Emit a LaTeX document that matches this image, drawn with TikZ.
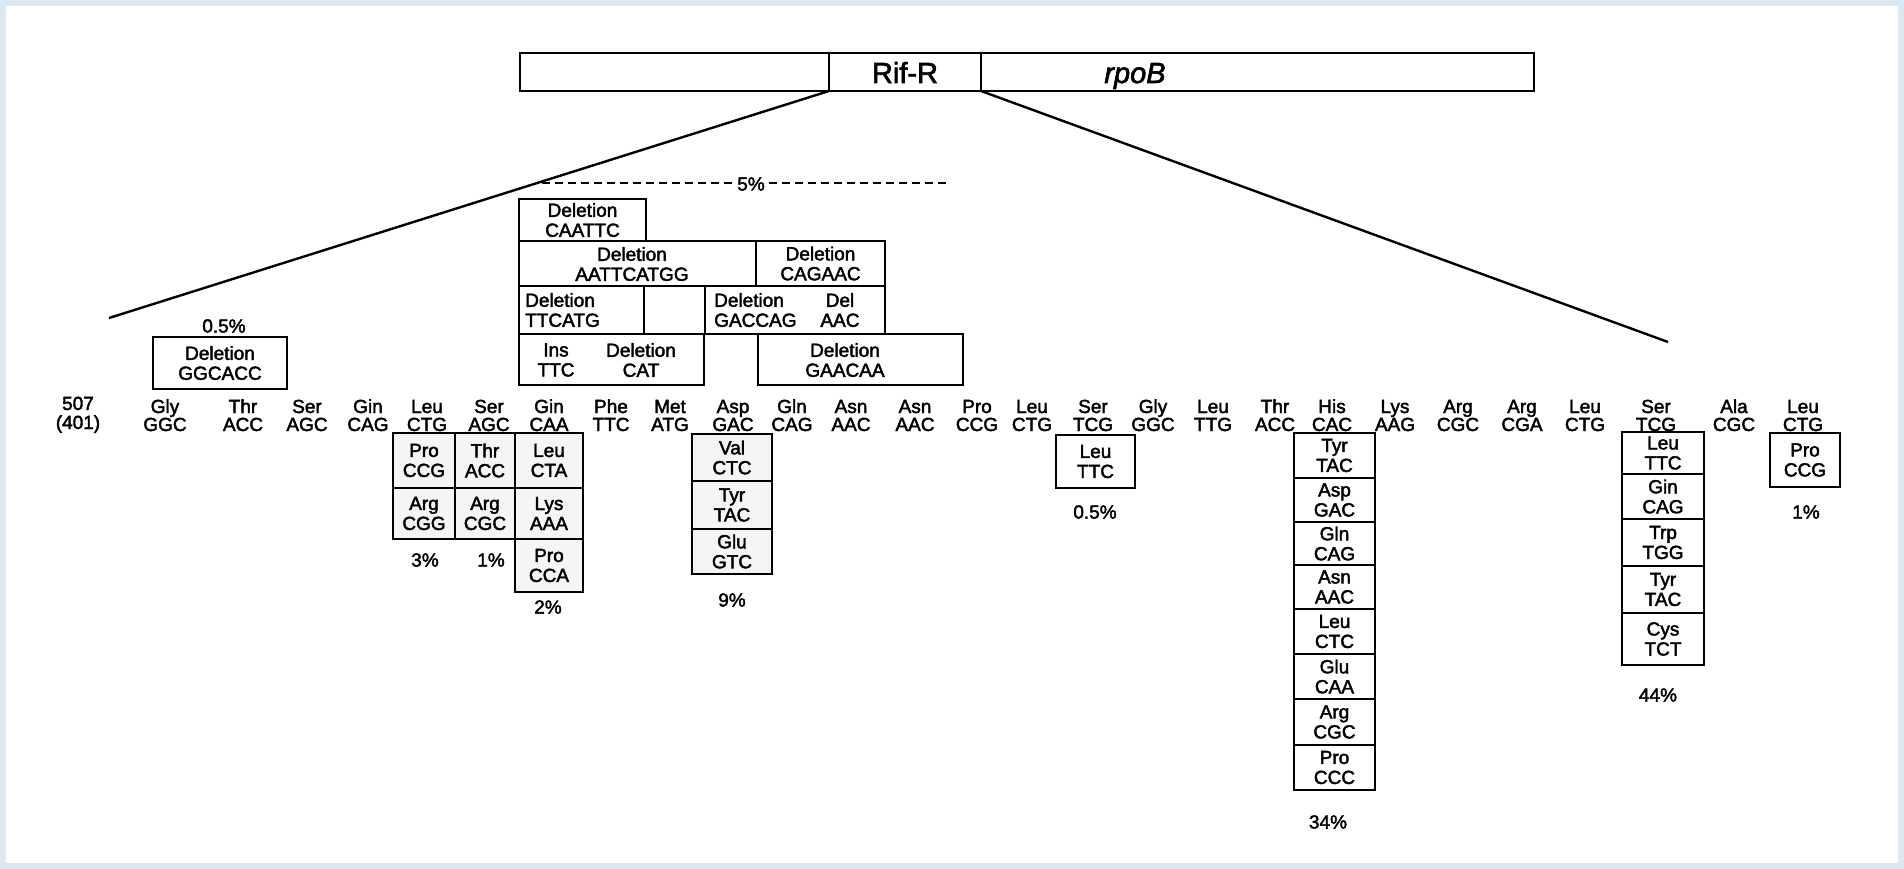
\documentclass[tikz,border=0pt]{standalone}
\usepackage{fontspec}
\setmainfont{Liberation Sans}[FakeBold=2.2]
\definecolor{framebg}{HTML}{DDE7EF}
\newcommand\bx[6]{\node[boxs, minimum width={(#4-#2)*1pt}, minimum height={(#5-#3)*1pt}] (#1) at ({(#2+#4)/2},{(#3+#5)/2}) {#6};}
\begin{document}
\begin{tikzpicture}[x=1pt,y=-1pt,
  boxs/.style={draw, line width=2pt, inner sep=0pt, align=center, font=\fontsize{19}{20}\selectfont},
  gbox/.style={fill=black!4},
  txt/.style={inner sep=0pt, align=center, font=\fontsize{19}{20}\selectfont},
  aa/.style={inner sep=0pt, anchor=base, font=\fontsize{19}{18}\selectfont},
  pct/.style={inner sep=0pt, font=\fontsize{19}{19}\selectfont},
  link/.style={line width=2.4pt},
  dashline/.style={line width=1.8pt, dash pattern=on 8pt off 5pt}]
\fill[framebg] (0,0) rectangle (1904,869);
\fill[white] (6,6) rectangle (1898,863);
\useasboundingbox (0,0) rectangle (1904,869);

% rpoB bar
\node[draw, line width=2.4pt, minimum width=1014pt, minimum height=38pt, inner sep=0pt] (bar) at (1027,72) {};
\coordinate (rifL) at (829,91);
\coordinate (rifR) at (981,91);
\draw[line width=2pt] (rifL) -- (rifL |- bar.north);
\draw[line width=2pt] (rifR) -- (rifR |- bar.north);
\node[inner sep=0pt, anchor=base, font=\fontsize{29}{29}\selectfont] (rif) at (905,83) {Rif-R};
\node[inner sep=0pt, anchor=base, font=\fontsize{29}{29}\selectfont\itshape] (rpob) at (1135,83) {rpoB};

% expansion lines
\coordinate (endL) at (109,318);
\coordinate (endR) at (1668,342);
\draw[link] (rifL) -- (endL);
\draw[link] (rifR) -- (endR);

% 5% dashed
\node[pct, inner xsep=4pt] (p5) at (751,184) {5\%};
\coordinate (dashL) at (542,183);
\coordinate (dashR) at (950,183);
\draw[dashline] (dashL) -- (p5.west |- dashL);
\draw[dashline] (p5.east |- dashR) -- (dashR);

% deletion boxes
\bx{del1}{519}{199}{646}{241}{Deletion\\CAATTC}
\bx{del2}{519}{241}{756}{286}{}
\node[txt] (t2) at (632,264) {Deletion\\AATTCATGG};
\bx{del3}{756}{241}{885}{286}{Deletion\\CAGAAC}
\bx{del4}{519}{286}{644}{334}{}
\node[txt, align=left, anchor=west] (t4) at (525,310) {Deletion\\TTCATG};
\bx{del5}{644}{286}{705}{334}{}
\bx{del6}{705}{286}{885}{334}{}
\node[txt, align=left, anchor=west] (t6a) at (714,310) {Deletion\\GACCAG};
\node[txt] (t6b) at (840,310) {Del\\AAC};
\bx{del7}{519}{334}{704}{385}{}
\node[txt] (t7a) at (556,360) {Ins\\TTC};
\node[txt] (t7b) at (641,360) {Deletion\\CAT};
\bx{del8}{758}{334}{963}{385}{}
\node[txt] (t8) at (845,360) {Deletion\\GAACAA};

\bx{delg}{153}{337}{287}{389}{Deletion\\GGCACC}
\node[pct] (p05a) at (224,326) {0.5\%};

% codon row
\node[aa] (aa0) at (78,410) {507};
\node[aa] (cd0) at (78,429) {(401)};
\foreach \x/\a/\c [count=\i] in {165/Gly/GGC, 243/Thr/ACC, 307/Ser/AGC, 368/Gin/CAG, 427/Leu/CTG, 489/Ser/AGC, 549/Gin/CAA, 611/Phe/TTC, 670/Met/ATG, 733/Asp/GAC, 792/Gln/CAG, 851/Asn/AAC, 915/Asn/AAC, 977/Pro/CCG, 1032/Leu/CTG, 1093/Ser/TCG, 1153/Gly/GGC, 1213/Leu/TTG, 1275/Thr/ACC, 1332/His/CAC, 1395/Lys/AAG, 1458/Arg/CGC, 1522/Arg/CGA, 1585/Leu/CTG, 1656/Ser/TCG, 1734/Ala/CGC, 1803/Leu/CTG}
{
  \node[aa] (aa\i) at (\x,413) {\a};
  \node[aa] (cd\i) at (\x,431) {\c};
}

% substitutions
\begin{scope}[boxs/.append style={gbox}]
\bx{s1}{393}{433}{455}{488}{Pro\\CCG}
\bx{s2}{393}{488}{455}{539}{Arg\\CGG}
\bx{s3}{455}{433}{515}{488}{Thr\\ACC}
\bx{s4}{455}{488}{515}{539}{Arg\\CGC}
\bx{s5}{515}{433}{583}{488}{Leu\\CTA}
\bx{s6}{515}{488}{583}{539}{Lys\\AAA}
\bx{s7}{515}{539}{583}{592}{Pro\\CCA}
\bx{s8}{692}{434}{772}{481}{Val\\CTC}
\bx{s9}{692}{481}{772}{529}{Tyr\\TAC}
\bx{s10}{692}{529}{772}{574}{Glu\\GTC}
\end{scope}
\node[pct] (p3) at (425,560) {3\%};
\node[pct] (p1a) at (491,560) {1\%};
\node[pct] (p2) at (548,607) {2\%};
\node[pct] (p9) at (732,600) {9\%};

\bx{s11}{1056}{435}{1135}{488}{Leu\\TTC}
\node[pct] (p05b) at (1095,512) {0.5\%};

\foreach \ya/\yb/\a/\c [count=\i] in {433/478/Tyr/TAC, 478/522/Asp/GAC, 522/565/Gln/CAG, 565/609/Asn/AAC, 609/654/Leu/CTC, 654/699/Glu/CAA, 699/745/Arg/CGC, 745/790/Pro/CCC}
{ \bx{his\i}{1294}{\ya}{1375}{\yb}{\a\\\c} }
\node[pct] (p34) at (1328,822) {34\%};

\foreach \ya/\yb/\a/\c [count=\i] in {432/474/Leu/TTC, 474/519/Gin/CAG, 519/566/Trp/TGG, 566/613/Tyr/TAC, 613/665/Cys/TCT}
{ \bx{ser\i}{1622}{\ya}{1704}{\yb}{\a\\\c} }
\node[pct] (p44) at (1658,695) {44\%};

\bx{s12}{1770}{433}{1840}{487}{Pro\\CCG}
\node[pct] (p1b) at (1806,512) {1\%};
\end{tikzpicture}
\end{document}
